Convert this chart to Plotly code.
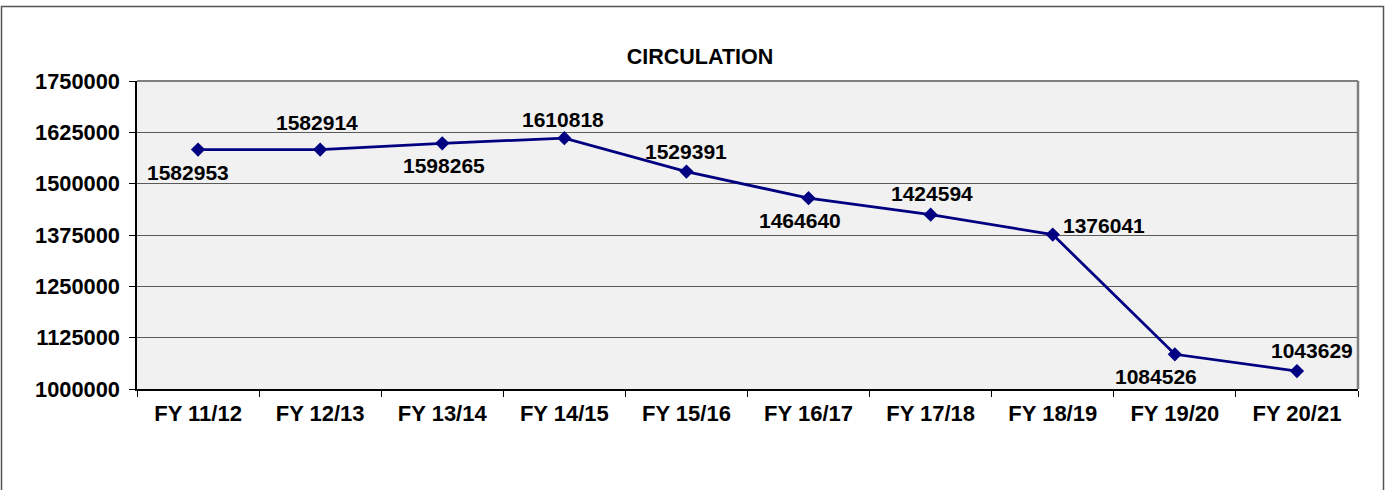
import plotly.graph_objects as go

categories = ["FY 11/12", "FY 12/13", "FY 13/14", "FY 14/15", "FY 15/16",
              "FY 16/17", "FY 17/18", "FY 18/19", "FY 19/20", "FY 20/21"]
circulation = [1582953, 1582914, 1598265, 1610818, 1529391,
               1464640, 1424594, 1376041, 1084526, 1043629]
y_ticks = [1000000, 1125000, 1250000, 1375000, 1500000, 1625000, 1750000]

# label offsets (pixels) for each data label
label_dx = [-10, -3, 2, -1, 0, -9, 1, 51, -19, 15]
label_dy = [-23, 27, -22, 19, 20, -22, 21, 9, -22, 21]

FONT = "Liberation Sans, Arial, sans-serif"
W, H = 1390, 490
L, R, T, B = 137, 32, 81, 101

fig = go.Figure()
fig.add_trace(go.Scatter(
    x=categories, y=circulation, mode="lines+markers",
    line=dict(color="#000080", width=2.8),
    marker=dict(symbol="diamond", size=11, color="#000080"),
    showlegend=False, hoverinfo="x+y",
))

for c, v, dx, dy in zip(categories, circulation, label_dx, label_dy):
    fig.add_annotation(x=c, y=v, text=f"<b>{v}</b>", showarrow=False,
                       xshift=dx, yshift=dy,
                       font=dict(family=FONT, size=21, color="black"))

pw = W - L - R
ph = H - T - B
def px(x):
    return (x - L) / pw
def py(y):
    return (H - B - y) / ph

# outer chart border
fig.add_shape(type="rect", xref="paper", yref="paper",
              x0=px(1.5), x1=px(1383.5), y0=py(500), y1=py(6.5),
              line=dict(color="#555555", width=1.5), fillcolor="rgba(0,0,0,0)", layer="below")
# plot area top and right border (gray)
fig.add_shape(type="line", xref="paper", yref="paper", x0=0, x1=1, y0=1, y1=1,
              line=dict(color="#808080", width=2))
fig.add_shape(type="line", xref="paper", yref="paper", x0=1, x1=1, y0=0, y1=1,
              line=dict(color="#808080", width=2.5))

fig.update_layout(
    width=W, height=H,
    margin=dict(l=L, r=R, t=T, b=B, autoexpand=False),
    paper_bgcolor="white",
    plot_bgcolor="#F1F1F1",
    title=dict(text="<b>CIRCULATION</b>", x=700 / W, xref="container", xanchor="center",
               y=1 - 56 / H, yref="container", yanchor="middle",
               font=dict(family=FONT, size=21.5, color="black")),
    font=dict(family=FONT, color="black"),
    xaxis=dict(
        type="category", range=[-0.5, len(categories) - 0.5],
        tickson="boundaries", ticks="outside", ticklen=6,
        tickcolor="black", tickwidth=1,
        showline=True, linecolor="black", linewidth=1.5,
        showgrid=False, zeroline=False, automargin=False,
        tickfont=dict(family=FONT, size=22, color="black"),
        tickprefix="<b>", ticksuffix="</b>", ticklabelstandoff=4,
    ),
    yaxis=dict(
        range=[1000000, 1750000], tickmode="array", tickvals=y_ticks,
        ticktext=[f"<b>{t}</b>" for t in y_ticks],
        ticks="outside", ticklen=6, tickcolor="black", tickwidth=1,
        showline=True, linecolor="black", linewidth=1.5,
        showgrid=True, gridcolor="#5a5a5a", gridwidth=1, zeroline=False,
        automargin=False, ticklabelstandoff=5,
        tickfont=dict(family=FONT, size=21.8, color="black"),
    ),
)

fig.write_html("out.html", config={"displayModeBar": False},
               post_script="document.body.style.margin='0';")
